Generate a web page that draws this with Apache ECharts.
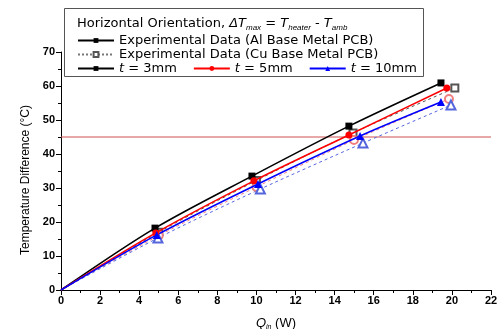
<!DOCTYPE html>
<html lang="en">
<head>
    <meta charset="UTF-8">
    <title>Temperature Difference vs Qin</title>
    <script src="https://cdn.jsdelivr.net/npm/echarts@6/dist/echarts.min.js"></script>
    <style>
        html, body { margin: 0; padding: 0; background: #fff; }
        #container { width: 499px; height: 329px; }
    </style>
</head>
<body>
<div id="container"></div>
<script type="text/javascript">
    // Al base metal PCB (solid lines, filled markers), [Qin, dT]
    var alT3 = [[0, 0], [4.81, 18.2], [9.77, 33.5], [14.73, 48.2], [19.44, 60.9]];
    var alT5 = [[0, 0], [4.85, 16.8], [9.87, 32.1], [14.73, 45.6], [19.74, 59.4]];
    var alT10 = [[0, 0], [4.9, 16.2], [10.08, 31.2], [15.3, 45.3], [19.44, 55.3]];

    // Cu base metal PCB (dashed lines, hollow markers)
    var cuT3 = [[0, 0], [5.0, 17.0], [10.0, 32.2], [14.94, 46.2], [20.15, 59.4]];
    var cuT5 = [[0, 0], [5.0, 16.0], [10.0, 30.3], [14.99, 44.1], [19.85, 56.2]];
    var cuT10 = [[0, 0], [4.96, 15.3], [10.2, 29.7], [15.45, 43.2], [19.95, 54.4]];

    var refLine = 45;
    var xMax = 22;
    var xTicks = [0, 2, 4, 6, 8, 10, 12, 14, 16, 18, 20, 22];
    var yTicks = [0, 10, 20, 30, 40, 50, 60, 70];

    var dom = document.getElementById("container");
    var myChart = echarts.init(dom);

    var font = 'Liberation Sans, Arial, sans-serif';
    var wideFont = 'DejaVu Sans, sans-serif';

    // hide the marker at the origin
    function pts(arr) {
        return arr.map(function (p, i) {
            return i === 0 ? {value: p, symbol: 'none'} : p;
        });
    }

    function solid(name, data, color, symbol, size) {
        return {
            name: name, type: 'line', data: pts(data), smooth: 0.3, z: 5,
            symbol: symbol, symbolSize: size, showAllSymbol: true,
            lineStyle: {color: color, width: 1.6},
            itemStyle: {color: color}
        };
    }

    function dashed(name, data, color, symbol, size) {
        return {
            name: name, type: 'line', data: pts(data), smooth: 0.3, z: 3,
            symbol: symbol, symbolSize: size, showAllSymbol: true,
            lineStyle: {color: color, width: 1, type: [3, 3]},
            itemStyle: {color: color, borderColor: color, borderWidth: 1}
        };
    }

    var alName = 'Experimental Data (Al Base Metal PCB)';
    var cuName = 'Experimental Data (Cu Base Metal PCB)';

    var legendText = {fontFamily: wideFont, fontSize: 13, fontWeight: 'normal', color: '#000'};

    var option = {
        animation: false,
        textStyle: {fontFamily: font},
        grid: {left: 61, right: 8, top: 52, bottom: 39, outerBoundsMode: 'none'},
        title: {
            left: 77, top: 16, padding: 0,
            text: '{n|Horizontal Orientation, }{i|\u0394T}{s|max}{n| = }{i|T}{s|heater}{n| - }{i|T}{s|amb}',
            textStyle: {
                fontWeight: 'normal',
                rich: {
                    n: {fontFamily: wideFont, fontSize: 13, fontWeight: 'normal', color: '#000', lineHeight: 16},
                    i: {fontFamily: wideFont, fontSize: 13, fontWeight: 'normal', fontStyle: 'italic', color: '#000', lineHeight: 16},
                    s: {fontFamily: font, fontSize: 8, fontWeight: 'normal', fontStyle: 'italic', color: '#000', lineHeight: 8, verticalAlign: 'bottom'}
                }
            }
        },
        graphic: [{
            type: 'rect', left: 64, top: 8, z: 0,
            shape: {width: 359, height: 68},
            style: {fill: '#fff', stroke: '#555', lineWidth: 1}
        }],
        legend: [
            {
                data: [alName], left: 77, top: 34, padding: 0,
                itemWidth: 36, itemHeight: 6, textStyle: legendText
            },
            {
                data: [cuName], left: 77, top: 48, padding: 0,
                itemWidth: 36, itemHeight: 6, textStyle: legendText
            },
            {
                data: ['t = 3mm', 't = 5mm', 't = 10mm'], left: 77, top: 62, padding: 0,
                itemWidth: 36, itemHeight: 6, itemGap: 16,
                formatter: function (name) {
                    return '{i|t}' + name.slice(1);
                },
                textStyle: {
                    fontFamily: wideFont, fontSize: 13, color: '#000',
                    rich: {i: {fontFamily: wideFont, fontSize: 13, fontStyle: 'italic', color: '#000'}}
                }
            }
        ],
        xAxis: {
            type: 'value', min: 0, max: xMax, interval: 2,
            name: '{q|Q}{s|in}{n| (W)}', nameLocation: 'middle', nameGap: 25,
            nameTextStyle: {
                rich: {
                    q: {fontFamily: font, fontSize: 13, fontStyle: 'italic', color: '#000', lineHeight: 16},
                    s: {fontFamily: font, fontSize: 7, fontStyle: 'italic', color: '#000', lineHeight: 8, verticalAlign: 'bottom'},
                    n: {fontFamily: font, fontSize: 13, color: '#000', lineHeight: 16}
                }
            },
            axisLine: {lineStyle: {color: '#000', width: 1}},
            axisTick: {inside: false, length: 5, lineStyle: {color: '#000'}},
            minorTick: {show: true, splitNumber: 2, length: 3, lineStyle: {color: '#000'}},
            splitLine: {show: false},
            axisLabel: {
                fontFamily: font, fontSize: 11, fontWeight: 'bold', color: '#000', margin: 5,
                formatter: function (v) { return xTicks.indexOf(v) >= 0 ? String(v) : ''; }
            }
        },
        yAxis: {
            type: 'value', min: 0, max: 70, interval: 10,
            name: 'Temperature Difference (\u00B0C)', nameLocation: 'middle', nameGap: 27,
            nameTextStyle: {fontFamily: font, fontSize: 12, color: '#000', padding: [0, 18, 0, 0]},
            axisLine: {show: true, lineStyle: {color: '#000', width: 1}},
            axisTick: {show: true, inside: false, length: 5, lineStyle: {color: '#000'}},
            minorTick: {show: true, splitNumber: 2, length: 3, lineStyle: {color: '#000'}},
            splitLine: {show: false},
            axisLabel: {
                fontFamily: font, fontSize: 11, fontWeight: 'bold', color: '#000', margin: 6,
                formatter: function (v) { return yTicks.indexOf(v) >= 0 ? String(v) : ''; }
            }
        },
        series: [
            // horizontal reference line across the plot
            {
                name: 'ref', type: 'line', data: [[0, refLine], [xMax, refLine]], silent: true,
                symbol: 'none', z: 2,
                lineStyle: {color: '#d05050', width: 1, type: 'solid'},
                itemStyle: {color: '#d05050'}
            },
            dashed('Cu t = 3mm', cuT3, '#555555', 'emptyRect', 7),
            dashed('Cu t = 5mm', cuT5, '#f08080', 'emptyCircle', 8),
            dashed('Cu t = 10mm', cuT10, '#5566dd', 'emptyTriangle', 9),
            solid('t = 3mm', alT3, '#000000', 'rect', 7),
            solid('t = 5mm', alT5, '#ff0000', 'circle', 7),
            solid('t = 10mm', alT10, '#0000ff', 'triangle', 8),
            // legend-only entries
            {
                name: alName, type: 'line', data: [], symbol: 'rect', symbolSize: 5,
                lineStyle: {color: '#000', width: 1.6}, itemStyle: {color: '#000'}
            },
            {
                name: cuName, type: 'line', data: [], symbol: 'emptyRect', symbolSize: 5,
                lineStyle: {color: '#777', width: 1, type: [2, 2]},
                itemStyle: {color: '#555', borderColor: '#555'}
            }
        ]
    };

    myChart.setOption(option, true);
</script>
</body>
</html>
